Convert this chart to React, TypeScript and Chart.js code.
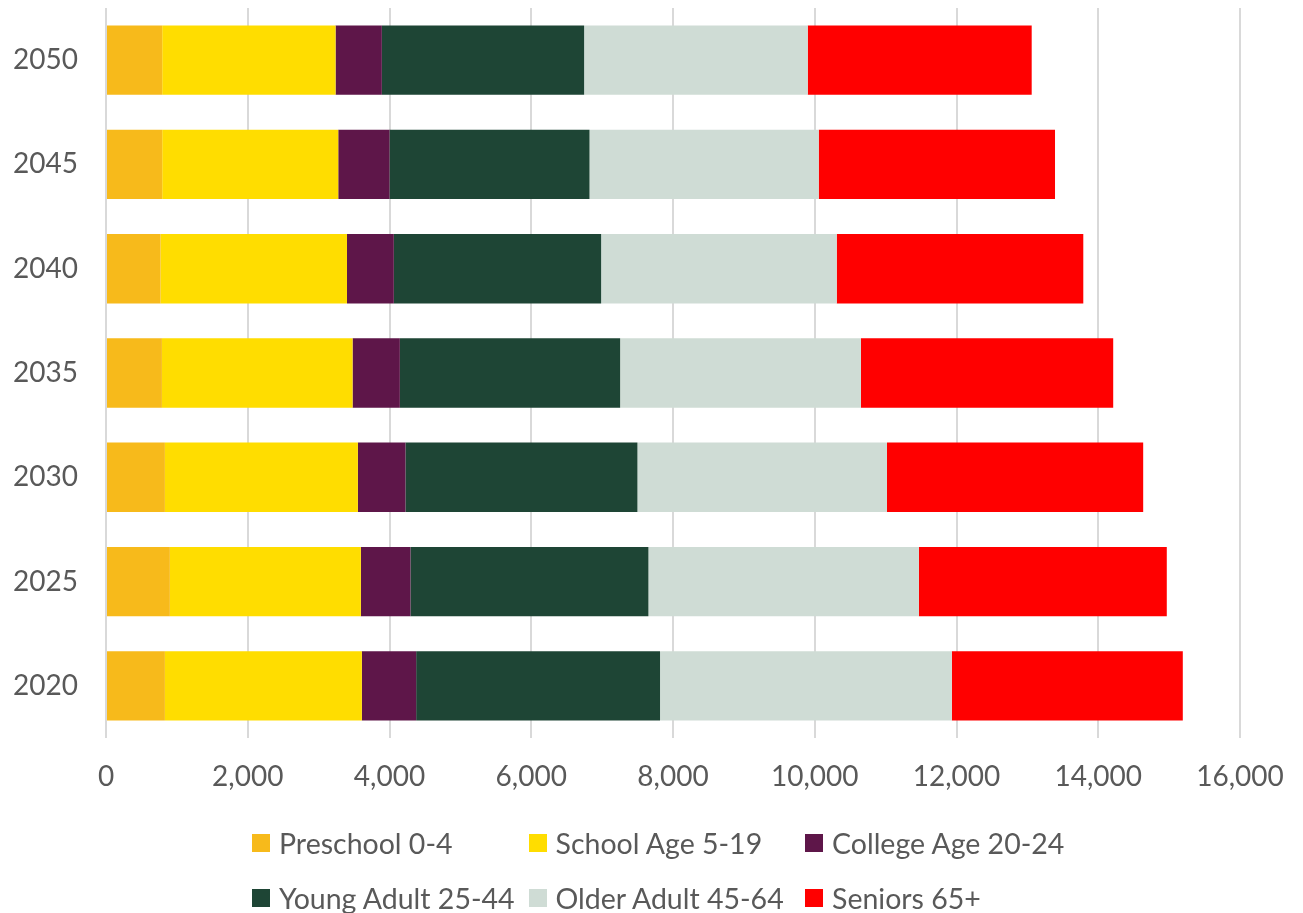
import React, { useEffect, useRef } from "react";
import { Chart, registerables } from "chart.js";

Chart.register(...registerables);

// Population by age group, projected in five-year steps (top row = 2050)
const years = ["2050", "2045", "2040", "2035", "2030", "2025", "2020"];
const preschool = [793, 793, 770, 789, 831, 901, 831];
const schoolAge = [2446, 2484, 2630, 2690, 2723, 2695, 2779];
const collegeAge = [653, 723, 661, 667, 671, 700, 766];
const youngAdult = [2854, 2822, 2925, 3108, 3273, 3357, 3441];
const olderAdult = [3155, 3234, 3324, 3398, 3521, 3816, 4117];
const seniors = [3160, 3334, 3479, 3559, 3615, 3498, 3259];

const seriesNames = [
  "Preschool 0-4",
  "School Age 5-19",
  "College Age 20-24",
  "Young Adult 25-44",
  "Older Adult 45-64",
  "Seniors 65+",
];
const seriesColors = ["#F7BA1B", "#FFDD00", "#5E1649", "#1E4535", "#CFDCD5", "#FF0000"];
const seriesValues = [preschool, schoolAge, collegeAge, youngAdult, olderAdult, seniors];

const axisMin = 0;
const axisMax = 16000;
const axisStep = 2000;

const FONT = "Lato, 'Open Sans', sans-serif";
const TEXT_COLOR = "#595959";

export default function App() {
  const canvasRef = useRef<HTMLCanvasElement | null>(null);

  useEffect(() => {
    if (!canvasRef.current) return;
    const chart = new Chart(canvasRef.current, {
      type: "bar",
      data: {
        labels: years,
        datasets: seriesNames.map((name, i) => ({
          label: name,
          data: seriesValues[i],
          backgroundColor: seriesColors[i],
          borderWidth: 0,
          categoryPercentage: 1,
          barPercentage: 0.665,
        })),
      },
      options: {
        indexAxis: "y",
        animation: false,
        responsive: false,
        maintainAspectRatio: false,
        layout: { padding: { left: 0, right: 63, top: 8, bottom: 105 } },
        plugins: {
          legend: { display: false },
          tooltip: { enabled: false },
        },
        scales: {
          x: {
            stacked: true,
            min: axisMin,
            max: axisMax,
            ticks: {
              stepSize: axisStep,
              color: TEXT_COLOR,
              font: { family: FONT, size: 28 },
              padding: 22,
              maxRotation: 0,
              callback: (v: any) => Number(v).toLocaleString("en-US"),
            },
            grid: { color: "#D9D9D9", lineWidth: 2, drawTicks: false },
            border: { display: false },
            afterFit: (scale: any) => {
              scale.height = 70;
              scale.paddingLeft = 0;
              scale.paddingRight = 0;
            },
          },
          y: {
            stacked: true,
            ticks: {
              color: TEXT_COLOR,
              font: { family: FONT, size: 28 },
              padding: 28,
            },
            grid: { display: false, drawTicks: false },
            border: { display: false },
            afterFit: (scale: any) => {
              scale.width = 106;
              scale.paddingTop = 0;
              scale.paddingBottom = 0;
            },
          },
        },
      },
    });
    return () => chart.destroy();
  }, []);

  return (
    <div
      style={{
        position: "fixed",
        left: 0,
        top: 0,
        width: 1303,
        height: 913,
        background: "#FFFFFF",
        overflow: "hidden",
      }}
    >
      <canvas ref={canvasRef} width={1303} height={913} style={{ display: "block" }} />
      <div
        style={{
          position: "absolute",
          left: 252,
          top: 815,
          display: "grid",
          gridTemplateColumns: "repeat(3, 276.5px)",
          gridAutoRows: "55px",
          fontFamily: FONT,
          fontSize: 28.5,
          color: TEXT_COLOR,
        }}
      >
        {seriesNames.map((name, i) => (
          <div key={name} style={{ display: "flex", alignItems: "center", whiteSpace: "nowrap" }}>
            <span
              style={{
                display: "inline-block",
                width: 18,
                height: 18,
                background: seriesColors[i],
                marginRight: 9,
                flex: "0 0 auto",
              }}
            />
            <span>{name}</span>
          </div>
        ))}
      </div>
    </div>
  );
}
